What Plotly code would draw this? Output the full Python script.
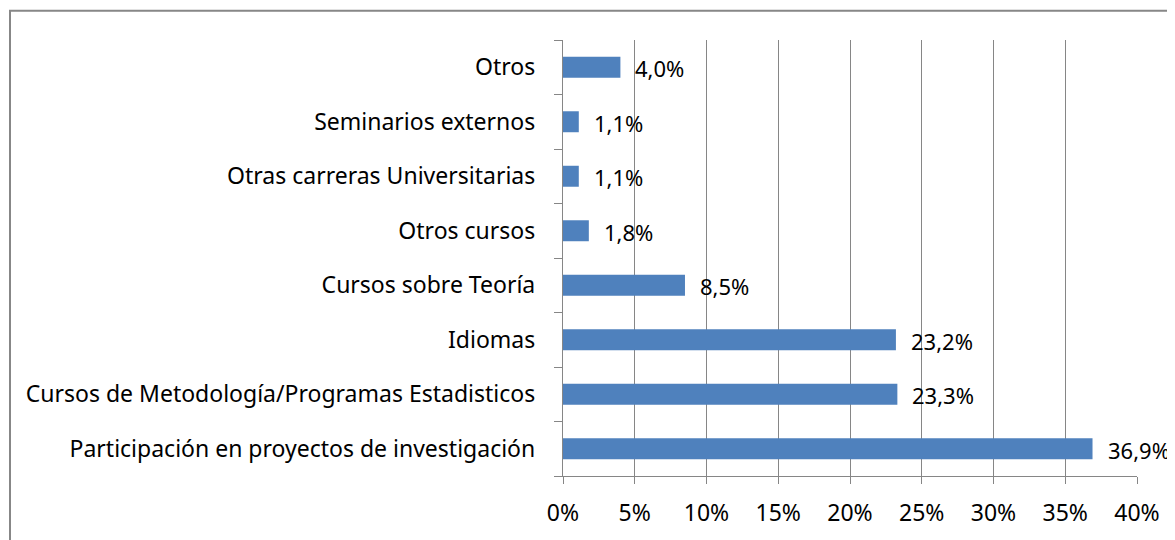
import plotly.graph_objects as go

categories = [
    "Participación en proyectos de investigación",
    "Cursos de Metodología/Programas Estadisticos",
    "Idiomas",
    "Cursos sobre Teoría",
    "Otros cursos",
    "Otras carreras Universitarias",
    "Seminarios externos",
    "Otros",
]
values = [36.9, 23.3, 23.2, 8.5, 1.8, 1.1, 1.1, 4.0]
labels = [f"{v:.1f}%".replace(".", ",") for v in values]
x_ticks = [0, 5, 10, 15, 20, 25, 30, 35, 40]
x_tick_text = [f"{t}%" for t in x_ticks]

FONT = "Noto Sans"
GRID = "#868686"
FS = 23

# page body has an 8px margin; figure is sized/offset to compensate
W, H = 1167, 532
L, T = 555, 32
PW = 574
PH = 438

fig = go.Figure()
fig.add_trace(go.Bar(
    y=categories, x=values, orientation="h",
    marker=dict(color="#4F81BD", line=dict(width=0)),
    hoverinfo="skip",
))
# invisible helper trace for category-boundary tick marks
fig.add_trace(go.Scatter(x=[None], y=[None], yaxis="y2", showlegend=False))

annotations = [
    dict(x=v, y=c, xref="x", yref="y", text=t, showarrow=False,
         xanchor="left", yanchor="middle", xshift=13, yshift=-1,
         font=dict(family=FONT, size=22, color="#000000"))
    for c, v, t in zip(categories, values, labels)
]

fig.update_layout(
    width=W, height=H,
    margin=dict(l=L, r=W - L - PW, t=T, b=H - T - PH),
    paper_bgcolor="white", plot_bgcolor="white",
    showlegend=False,
    bargap=0.615,
    font=dict(family=FONT, size=FS, color="#000000"),
    annotations=annotations,
    xaxis=dict(
        range=[0, 40], tickvals=x_ticks, ticktext=x_tick_text,
        showgrid=True, gridcolor=GRID, gridwidth=1.3,
        zeroline=False, showline=True, linecolor=GRID, linewidth=1.3,
        ticks="outside", ticklen=7, tickcolor=GRID, tickwidth=1.3,
        tickfont=dict(family=FONT, size=FS, color="#000000"),
        ticklabelstandoff=9,
        fixedrange=True,
    ),
    yaxis=dict(
        showgrid=False, zeroline=False, showline=True, linecolor=GRID, linewidth=1.3,
        ticks="", tickfont=dict(family=FONT, size=FS, color="#000000"),
        ticklabelstandoff=22,
        range=[-0.5, 7.5],
        fixedrange=True,
    ),
    yaxis2=dict(
        overlaying="y", side="left", anchor="x",
        range=[-0.5, 7.5], tickvals=[i - 0.5 for i in range(9)],
        showticklabels=False, ticks="outside", ticklen=8, tickcolor=GRID, tickwidth=1.3,
        showgrid=False, zeroline=False, showline=False, fixedrange=True,
    ),
    shapes=[dict(
        type="rect", xref="paper", yref="paper",
        x0=(2 - L) / PW, x1=(W + 20 - L) / PW,
        y0=-(H + 20 - T - PH) / PH, y1=1 + (T - 2.5) / PH,
        line=dict(color="#878787", width=2), fillcolor="rgba(0,0,0,0)", layer="below",
    )],
)

fig.write_html("out.html")
